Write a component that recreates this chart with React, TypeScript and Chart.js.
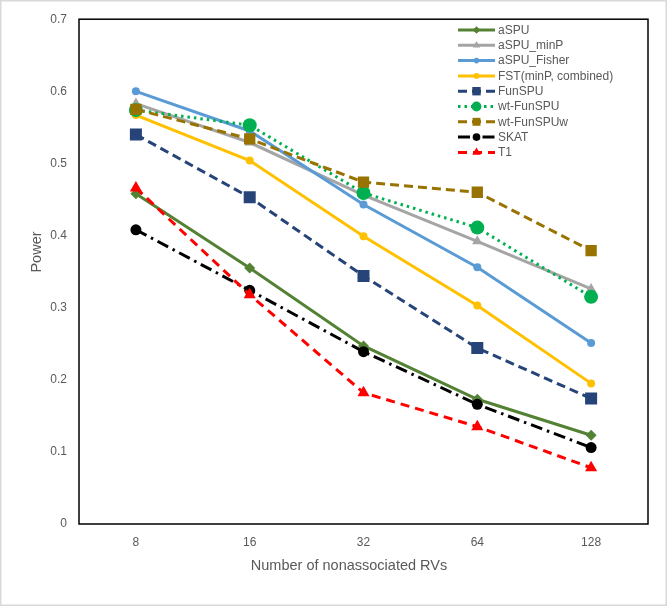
import React, { useEffect, useRef } from 'react';
import { Chart, registerables } from 'chart.js';

Chart.register(...registerables);

// ---- data ----
const categories = ['8', '16', '32', '64', '128'];
const aSPU = [0.458, 0.355, 0.247, 0.173, 0.123];
const aSPU_minP = [0.583, 0.529, 0.456, 0.392, 0.326];
const aSPU_Fisher = [0.6, 0.545, 0.443, 0.356, 0.251];
const FST = [0.567, 0.504, 0.399, 0.303, 0.195];
const FunSPU = [0.54, 0.453, 0.344, 0.244, 0.174];
const wtFunSPU = [0.574, 0.553, 0.459, 0.411, 0.315];
const wtFunSPUw = [0.575, 0.534, 0.474, 0.46, 0.379];
const SKAT = [0.408, 0.324, 0.239, 0.166, 0.106];
const T1 = [0.466, 0.318, 0.182, 0.135, 0.078];
const yTicks = [0, 0.1, 0.2, 0.3, 0.4, 0.5, 0.6, 0.7];
const xTitle = 'Number of nonassociated RVs';
const yTitle = 'Power';

const FONT = "'Liberation Sans', Arial, sans-serif";
const TEXT = '#595959';

type Series = {
  name: string;
  data: number[];
  color: string;
  dash: number[];
  style: 'circle' | 'rect' | 'triangle' | 'rectRot';
  radius: number;
};

const series: Series[] = [
  { name: 'aSPU', data: aSPU, color: '#548235', dash: [], style: 'rectRot', radius: 5.5 },
  { name: 'aSPU_minP', data: aSPU_minP, color: '#A5A5A5', dash: [], style: 'triangle', radius: 6 },
  { name: 'aSPU_Fisher', data: aSPU_Fisher, color: '#5B9BD5', dash: [], style: 'circle', radius: 4 },
  { name: 'FST(minP, combined)', data: FST, color: '#FFC000', dash: [], style: 'circle', radius: 4 },
  { name: 'FunSPU', data: FunSPU, color: '#264478', dash: [9, 5], style: 'rect', radius: 8.5 },
  { name: 'wt-FunSPU', data: wtFunSPU, color: '#00B050', dash: [2.5, 4], style: 'circle', radius: 7 },
  { name: 'wt-FunSPUw', data: wtFunSPUw, color: '#997300', dash: [9, 5], style: 'rect', radius: 8 },
  { name: 'SKAT', data: SKAT, color: '#000000', dash: [12, 5, 2.5, 5], style: 'circle', radius: 5.5 },
  { name: 'T1', data: T1, color: '#FF0000', dash: [9, 6], style: 'triangle', radius: 7 },
];

function drawMarker(ctx: CanvasRenderingContext2D, style: string, x: number, y: number, r: number, color: string) {
  ctx.save();
  ctx.fillStyle = color;
  ctx.setLineDash([]);
  ctx.beginPath();
  if (style === 'circle') {
    ctx.arc(x, y, r, 0, Math.PI * 2);
  } else if (style === 'rect') {
    const s = Math.SQRT1_2 * r;
    ctx.rect(x - s, y - s, 2 * s, 2 * s);
  } else if (style === 'rectRot') {
    ctx.moveTo(x - r, y);
    ctx.lineTo(x, y - r);
    ctx.lineTo(x + r, y);
    ctx.lineTo(x, y + r);
    ctx.closePath();
  } else if (style === 'triangle') {
    const a = Math.PI / 6;
    ctx.moveTo(x, y - r);
    ctx.lineTo(x + r * Math.cos(a), y + r * Math.sin(a));
    ctx.lineTo(x - r * Math.cos(a), y + r * Math.sin(a));
    ctx.closePath();
  }
  ctx.fill();
  ctx.restore();
}

const framePlugin = {
  id: 'frame',
  beforeDraw(chart: any) {
    const { ctx, width, height } = chart;
    ctx.save();
    ctx.fillStyle = '#ffffff';
    ctx.fillRect(0, 0, width, height);
    ctx.strokeStyle = '#d9d9d9';
    ctx.lineWidth = 1.5;
    ctx.strokeRect(0.75, 0.75, width - 1.5, height - 1.5);
    ctx.restore();
  },
  beforeDatasetsDraw(chart: any) {
    const { ctx, chartArea } = chart;
    ctx.save();
    ctx.strokeStyle = '#000000';
    ctx.lineWidth = 1.5;
    ctx.strokeRect(chartArea.left, chartArea.top, chartArea.right - chartArea.left, chartArea.bottom - chartArea.top);
    // axis titles
    ctx.fillStyle = TEXT;
    ctx.font = `14.5px ${FONT}`;
    ctx.textAlign = 'center';
    ctx.textBaseline = 'middle';
    ctx.fillText(xTitle, 349, 566);
    ctx.translate(37, 252);
    ctx.rotate(-Math.PI / 2);
    ctx.fillText(yTitle, 0, 0);
    ctx.restore();
  },
  afterDraw(chart: any) {
    const ctx: CanvasRenderingContext2D = chart.ctx;
    const x0 = 458;
    const x1 = 495;
    const tx = 498;
    const y0 = 30;
    const dy = 15.3;
    ctx.save();
    series.forEach((s, i) => {
      const y = y0 + i * dy;
      ctx.strokeStyle = s.color;
      ctx.lineWidth = 3;
      ctx.setLineDash(s.dash);
      ctx.beginPath();
      ctx.moveTo(x0, y);
      ctx.lineTo(x1, y);
      ctx.stroke();
      drawMarker(ctx, s.style, (x0 + x1) / 2, y, s.radius * 0.7, s.color);
      ctx.setLineDash([]);
      ctx.fillStyle = TEXT;
      ctx.font = `12px ${FONT}`;
      ctx.textBaseline = 'middle';
      ctx.textAlign = 'left';
      ctx.fillText(s.name, tx, y + 0.5);
    });
    ctx.restore();
  },
};

export default function App() {
  const ref = useRef<HTMLCanvasElement | null>(null);

  useEffect(() => {
    document.body.style.margin = '0';
    const canvas = ref.current;
    if (!canvas) return;
    const chart = new Chart(canvas, {
      type: 'line',
      data: {
        labels: categories,
        datasets: series.map((s, i) => ({
          label: s.name,
          data: s.data,
          borderColor: s.color,
          backgroundColor: s.color,
          borderWidth: 3,
          borderDash: s.dash,
          pointStyle: s.style,
          pointRadius: s.radius,
          pointHoverRadius: s.radius,
          pointBorderWidth: 0,
          pointBackgroundColor: s.color,
          tension: 0,
          fill: false,
          order: series.length - 1 - i,
        })),
      },
      options: {
        animation: false,
        responsive: false,
        maintainAspectRatio: false,
        layout: { padding: { left: 0, right: 19, top: 16, bottom: 0 } },
        plugins: {
          legend: { display: false },
          tooltip: { enabled: false },
        },
        scales: {
          x: {
            type: 'category',
            offset: true,
            grid: { display: false, drawTicks: false },
            border: { display: false },
            ticks: { color: TEXT, font: { size: 12, family: FONT }, padding: 11 },
            title: { display: false },
            afterFit: (scale: any) => {
              scale.height = 82;
            },
          },
          y: {
            min: 0,
            max: 0.7,
            grid: { display: false, drawTicks: false },
            border: { display: false },
            afterBuildTicks: (scale: any) => {
              scale.ticks = yTicks.map((v) => ({ value: v }));
            },
            ticks: {
              color: TEXT,
              font: { size: 12, family: FONT },
              padding: 12,
              callback: (v: any) => String(Math.round(Number(v) * 10) / 10),
            },
            title: { display: false },
            afterFit: (scale: any) => {
              scale.width = 79;
            },
          },
        },
      },
      plugins: [framePlugin],
    });
    return () => chart.destroy();
  }, []);

  return (
    <div style={{ width: 667, height: 606 }}>
      <canvas ref={ref} width={667} height={606} style={{ display: 'block', width: 667, height: 606 }} />
    </div>
  );
}
